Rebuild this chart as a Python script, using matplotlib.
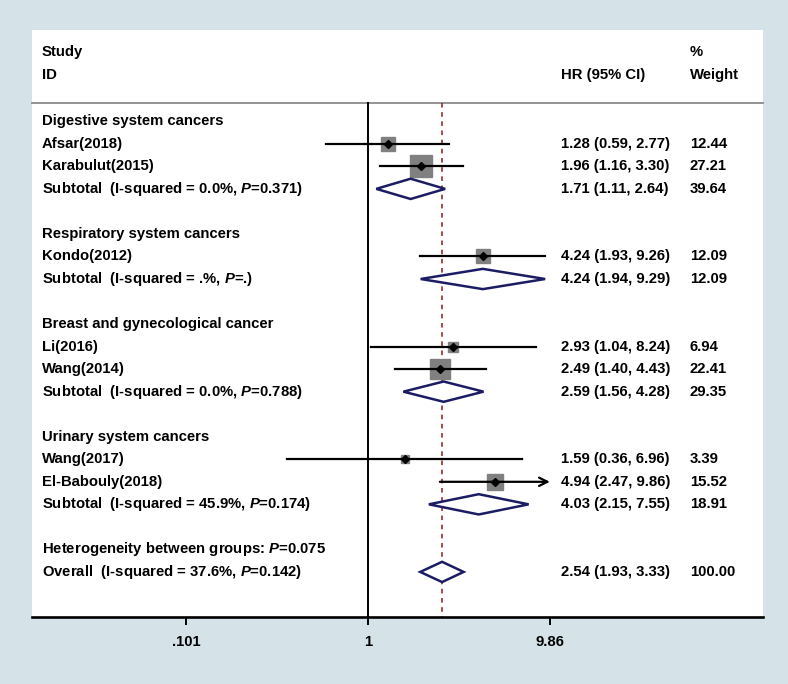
import matplotlib.pyplot as plt
import matplotlib.transforms as mtransforms
from matplotlib.patches import Polygon
import numpy as np

plt.rcParams['font.family'] = ['Liberation Sans', 'DejaVu Sans']
plt.rcParams['mathtext.fontset'] = 'custom'
plt.rcParams['mathtext.rm'] = 'Liberation Sans:bold'
plt.rcParams['mathtext.it'] = 'Liberation Sans:italic:bold'

# data
groups = ['Digestive system cancers', 'Respiratory system cancers',
          'Breast and gynecological cancer', 'Urinary system cancers']
studies = [['Afsar(2018)', 'Karabulut(2015)'], ['Kondo(2012)'],
           ['Li(2016)', 'Wang(2014)'], ['Wang(2017)', 'El-Babouly(2018)']]
study_hr = [[1.28, 1.96], [4.24], [2.93, 2.49], [1.59, 4.94]]
study_lo = [[0.59, 1.16], [1.93], [1.04, 1.40], [0.36, 2.47]]
study_hi = [[2.77, 3.30], [9.26], [8.24, 4.43], [6.96, 9.86]]
study_w = [[12.44, 27.21], [12.09], [6.94, 22.41], [3.39, 15.52]]

sub_i2 = ['0.0%', '.%', '0.0%', '45.9%']
sub_p = ['0.371', '.', '0.788', '0.174']
sub_hr = [1.71, 4.24, 2.59, 4.03]
sub_lo = [1.11, 1.94, 1.56, 2.15]
sub_hi = [2.64, 9.29, 4.28, 7.55]
sub_w = [39.64, 12.09, 29.35, 18.91]

het_p = '0.075'
overall_i2 = '37.6%'
overall_p = '0.142'
overall_hr = 2.54
overall_lo = 1.93
overall_hi = 3.33
overall_w = 100.00

xticks = [0.101, 1, 9.86]
xtick_labels = ['.101', '1', '9.86']

bg = '#d5e3e8'
navy = '#1c1c64'
fs = 10.7

fig = plt.figure(figsize=(7.88, 6.84), dpi=100, facecolor=bg)
ax = fig.add_axes([32 / 788, 1 - 617 / 684, 731 / 788, 587 / 684])
ax.set_facecolor('white')
ax.set_xscale('log')
ax.set_xlim(0.01457, 144.2)
ax.set_ylim(22.0, -4.05)
for s in ['top', 'left', 'right']:
    ax.spines[s].set_visible(False)
ax.spines['bottom'].set_linewidth(1.9)
ax.set_yticks([])
ax.set_xticks(xticks)
ax.set_xticklabels(xtick_labels)
ax.xaxis.set_minor_locator(plt.NullLocator())
ax.tick_params(axis='x', direction='out', length=6, width=1.4, pad=7,
               labelsize=fs)
for lab in ax.get_xticklabels():
    lab.set_fontweight('bold')

tr = mtransforms.blended_transform_factory(ax.transAxes, ax.transData)
x_lab, x_hr, x_w = 0.0137, 0.723, 0.900
kw = dict(transform=tr, fontsize=fs, fontweight='bold', va='center', ha='left')

# header
ax.text(x_lab, -3.06, 'Study', **kw)
ax.text(x_lab, -2.04, 'ID', **kw)
ax.text(x_hr, -2.04, 'HR (95% CI)', **kw)
ax.text(x_w, -3.06, '%', **kw)
ax.text(x_w, -2.04, 'Weight', **kw)
ax.plot([0, 1], [-0.8, -0.8], transform=tr, color='#8a8a8a', lw=1.3,
        clip_on=False)

# reference lines
ax.plot([1, 1], [-0.8, 22.0], color='black', lw=1.4)
ax.plot([overall_hr, overall_hr], [-0.8, 22.0], color='#8b1a1a', lw=1.1,
        ls=(0, (3, 3)))

dh = 0.45
xmax = xticks[-1]


def diamond(y, hr, lo, hi):
    ax.add_patch(Polygon([(lo, y), (hr, y - dh), (hi, y), (hr, y + dh)],
                         closed=True, facecolor='white', edgecolor=navy,
                         lw=1.8, zorder=4))


y = 0
for g in range(len(groups)):
    ax.text(x_lab, y, groups[g], **kw)
    y += 1
    for k in range(len(studies[g])):
        hr, lo, hi, w = study_hr[g][k], study_lo[g][k], study_hi[g][k], study_w[g][k]
        ax.text(x_lab, y, studies[g][k], **kw)
        ax.plot(hr, y, marker='s', ms=3.0 * np.sqrt(w), color='#808080',
                mec='#808080', zorder=3)
        if hi >= xmax:
            ax.annotate('', xy=(xmax, y), xytext=(lo, y),
                        arrowprops=dict(arrowstyle='->', lw=1.6,
                                        color='black', mutation_scale=15,
                                        shrinkA=0, shrinkB=0), zorder=5)
        else:
            ax.plot([lo, hi], [y, y], color='black', lw=1.6, zorder=5)
        ax.plot(hr, y, marker='D', ms=4.5, color='black', zorder=6)
        ax.text(x_hr, y, '%.2f (%.2f, %.2f)' % (hr, lo, hi), **kw)
        ax.text(x_w, y, '%.2f' % w, **kw)
        y += 1
    ax.text(x_lab, y, 'Subtotal  (I-squared = %s, $\\mathit{P}$=%s)'
            % (sub_i2[g], sub_p[g]), **kw)
    diamond(y, sub_hr[g], sub_lo[g], sub_hi[g])
    ax.text(x_hr, y, '%.2f (%.2f, %.2f)' % (sub_hr[g], sub_lo[g], sub_hi[g]), **kw)
    ax.text(x_w, y, '%.2f' % sub_w[g], **kw)
    y += 2

ax.text(x_lab, y, 'Heterogeneity between groups: $\\mathit{P}$=%s' % het_p, **kw)
y += 1
ax.text(x_lab, y, 'Overall  (I-squared = %s, $\\mathit{P}$=%s)'
        % (overall_i2, overall_p), **kw)
diamond(y, overall_hr, overall_lo, overall_hi)
ax.text(x_hr, y, '%.2f (%.2f, %.2f)' % (overall_hr, overall_lo, overall_hi), **kw)
ax.text(x_w, y, '%.2f' % overall_w, **kw)

fig.savefig('out.png', dpi=100, facecolor=bg)
